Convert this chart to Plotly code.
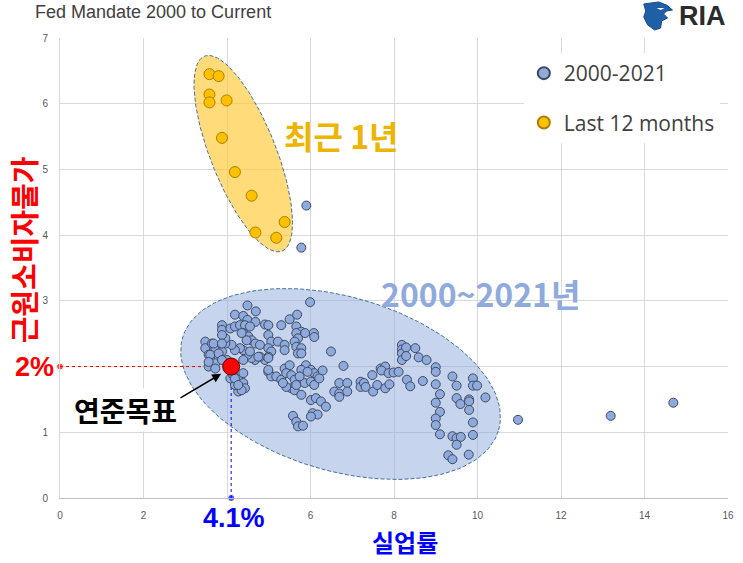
import math
import plotly.graph_objects as go

# ---------------- data (unemployment %, core inflation %) ----------------
pts_2000_2021 = [
    (4.49, 2.93), (4.69, 2.84), (5.99, 2.98), (4.19, 2.79), (4.39, 2.77), (4.49, 2.71),
    (4.68, 2.68), (5.50, 2.72), (5.68, 2.79), (4.91, 2.64), (4.99, 2.63), (5.30, 2.63),
    (3.88, 2.63), (3.88, 2.56), (4.08, 2.58), (4.19, 2.61), (4.31, 2.63), (4.43, 2.63),
    (4.55, 2.61), (5.66, 2.61), (5.78, 2.53), (5.87, 2.51), (6.08, 2.51), (6.09, 2.45),
    (5.66, 2.51), (5.70, 2.43), (5.62, 2.38), (4.39, 2.51), (4.51, 2.46), (4.59, 2.40),
    (4.68, 2.35), (4.79, 2.33), (4.99, 2.48), (5.06, 2.38), (5.22, 2.38), (5.38, 2.33),
    (5.38, 2.25), (4.99, 2.28), (5.06, 2.23), (4.99, 2.15), (4.91, 2.10), (4.79, 2.15),
    (4.67, 2.10), (4.59, 2.13), (4.49, 2.18), (4.39, 2.10), (4.39, 2.25), (4.31, 2.28),
    (4.19, 2.25), (4.11, 2.33), (3.96, 2.35), (3.96, 2.43), (3.88, 2.48), (3.48, 2.38),
    (3.48, 2.28), (3.64, 2.35), (3.72, 2.25), (3.56, 2.18), (3.64, 2.10), (3.80, 2.15),
    (3.88, 2.23), (4.00, 2.10), (3.56, 2.00), (3.72, 2.05), (5.66, 2.30), (5.78, 2.28),
    (5.70, 2.20), (5.78, 2.20), (6.49, 2.23), (6.79, 2.01),
    (4.99, 1.92), (5.06, 1.85), (5.18, 1.85), (5.30, 1.80), (5.38, 1.97), (5.50, 2.02),
    (5.42, 1.90), (5.54, 1.87), (5.62, 1.80), (5.54, 1.67), (5.42, 1.69), (5.34, 1.75),
    (5.62, 1.64), (5.66, 1.72), (5.58, 1.25), (5.66, 1.16), (5.70, 1.09), (5.82, 1.10),
    (4.27, 1.80), (4.39, 1.75), (4.43, 1.67), (4.27, 1.62), (4.19, 1.72), (4.08, 1.82),
    (4.15, 1.87), (4.39, 1.90),
    (5.89, 2.02), (6.01, 1.95), (6.09, 1.90), (6.17, 1.85), (6.29, 1.94), (5.78, 1.95),
    (5.86, 1.75), (6.01, 1.77), (6.09, 1.72), (5.78, 1.57), (6.01, 1.49), (6.13, 1.52),
    (6.25, 1.47), (6.37, 1.39), (6.05, 1.29), (6.17, 1.27), (6.01, 1.24), (5.74, 1.85),
    (5.93, 1.92), (6.21, 1.82), (6.57, 1.62), (6.69, 1.75), (6.88, 1.75), (6.69, 1.59),
    (6.69, 1.54), (6.88, 1.62), (7.20, 1.77), (7.20, 1.69), (7.28, 1.75), (7.32, 1.69),
    (7.48, 1.87), (7.50, 1.62), (7.60, 1.72), (7.68, 1.97), (7.79, 2.00), (7.70, 1.94),
    (7.87, 1.90), (7.99, 1.91), (7.79, 1.67), (7.89, 1.73),
    (8.19, 2.33), (8.19, 2.26), (8.19, 2.20), (8.29, 2.29), (8.51, 2.28), (8.19, 2.10),
    (8.29, 2.16), (8.59, 2.14), (8.78, 2.10), (9.00, 1.99), (9.00, 1.92), (8.11, 1.92),
    (8.31, 1.80), (8.39, 1.70), (8.69, 1.78), (9.00, 1.73), (9.40, 1.85), (9.50, 1.71),
    (9.89, 1.82), (9.89, 1.71), (9.99, 1.71), (10.19, 1.53), (9.10, 1.58), (9.00, 1.45),
    (9.50, 1.52), (9.59, 1.43), (9.80, 1.50), (9.80, 1.47), (9.80, 1.34), (9.10, 1.31),
    (9.00, 1.21), (9.00, 1.11), (9.89, 1.15), (9.10, 0.97), (9.40, 0.94), (9.50, 0.91),
    (9.60, 0.93), (9.50, 0.81), (9.89, 0.96), (9.30, 0.65), (9.40, 0.59), (9.79, 0.66),
    (3.68, 2.35), (3.60, 2.18), (3.80, 2.20), (3.88, 2.10), (3.56, 2.07), (3.72, 1.97),
    (3.88, 2.35), (4.35, 2.51), (4.47, 2.40), (4.55, 2.23), (4.75, 2.15), (4.99, 2.13),
    (4.99, 1.95), (4.19, 1.82), (4.35, 1.64), (4.27, 1.72),
    (5.90, 4.45), (5.78, 3.81), (10.97, 1.19), (13.19, 1.25), (14.69, 1.45),
]
pts_last12 = [
    (3.58, 6.45), (3.80, 6.42), (3.58, 6.14), (3.58, 6.02), (3.99, 6.05), (3.88, 5.48),
    (4.19, 4.96), (4.59, 4.60), (5.38, 4.20), (4.68, 4.04), (5.18, 3.96),
]
TARGET_UNEMP = 4.1
TARGET_CORE = 2.0
X_TICKS = list(range(0, 17, 2))
X_TICK_TEXT = ["0", "2", "", "6", "8", "10", "12", "14", "16"]
Y_TICKS = list(range(0, 8))
Y_TICK_TEXT = ["0", "1", "", "3", "4", "5", "6", "7"]

# ---------------- geometry ----------------
W, H = 743, 563
ML, MR, MT, MB = 60, 9, 38, 65
PW, PH = W - ML - MR, H - MT - MB
SX, SY = PW / 16.0, PH / 7.0


def ellipse(cx, cy, a_px, b_px, ang_deg, n=160):
    ph = math.radians(ang_deg)
    xs, ys = [], []
    for i in range(n + 1):
        t = 2 * math.pi * i / n
        dx = a_px * math.cos(t) * math.cos(ph) - b_px * math.sin(t) * math.sin(ph)
        dy = a_px * math.cos(t) * math.sin(ph) + b_px * math.sin(t) * math.cos(ph)
        xs.append(cx + dx / SX)
        ys.append(cy + dy / SY)
    return xs, ys


def paper(px, py):
    return (px - ML) / PW, (H - MB - py) / PH


fig = go.Figure()

# ellipses (background)
ex, ey = ellipse(6.72, 1.735, 166, 87, -16.1)
fig.add_trace(go.Scatter(x=ex, y=ey, mode="lines", fill="toself",
                         fillcolor="rgba(143,170,220,0.5)",
                         line=dict(color="#41719C", width=1, dash="4px,2px"),
                         hoverinfo="skip", showlegend=False))
ex, ey = ellipse(4.39, 5.24, 105, 33, -68.1)
fig.add_trace(go.Scatter(x=ex, y=ey, mode="lines", fill="toself",
                         fillcolor="rgba(255,200,50,0.65)",
                         line=dict(color="#41719C", width=1, dash="4px,2px"),
                         hoverinfo="skip", showlegend=False))

# guide lines to target
fig.add_trace(go.Scatter(x=[0, TARGET_UNEMP], y=[TARGET_CORE, TARGET_CORE], mode="lines+markers",
                         line=dict(color="red", width=1, dash="dot"),
                         marker=dict(size=[7, 0], color="red"), cliponaxis=False,
                         hoverinfo="skip", showlegend=False))
fig.add_trace(go.Scatter(x=[TARGET_UNEMP, TARGET_UNEMP], y=[0, TARGET_CORE], mode="lines+markers",
                         line=dict(color="blue", width=1, dash="dot"),
                         marker=dict(size=[7, 0], color="blue"), cliponaxis=False,
                         hoverinfo="skip", showlegend=False))

fig.add_trace(go.Scatter(x=[p[0] for p in pts_2000_2021], y=[p[1] for p in pts_2000_2021],
                         mode="markers", name="2000-2021", legendgroup="a",
                         marker=dict(size=9, color="#8FAADC", line=dict(color="#3E4A61", width=1))))
fig.add_trace(go.Scatter(x=[p[0] for p in pts_last12], y=[p[1] for p in pts_last12],
                         mode="markers", name="Last 12 months", legendgroup="b",
                         marker=dict(size=11, color="#FFC000", line=dict(color="#A88000", width=1))))
fig.add_trace(go.Scatter(x=[TARGET_UNEMP], y=[TARGET_CORE], mode="markers",
                         marker=dict(size=17, color="#FF0000", line=dict(color="#600000", width=1)),
                         hoverinfo="skip", showlegend=False))

KR = "Noto Sans CJK KR"
ann = []
ann.append(dict(x=3.86, y=1.89, ax=2.85, ay=1.51, axref="x", ayref="y", xref="x", yref="y",
                text="", showarrow=True, arrowhead=2, arrowsize=1.2, arrowwidth=1.5,
                arrowcolor="black"))
ann.append(dict(x=1.57, y=1.34, xref="x", yref="y", text="<b>연준목표</b>", showarrow=False,
                font=dict(family=KR, size=28, color="black"), bgcolor="white"))
ann.append(dict(x=0, y=TARGET_CORE, xref="x", yref="y", text="<b>2%</b>", showarrow=False,
                xanchor="right", xshift=-4, font=dict(family="Liberation Sans", size=27, color="#FF0000"),
                bgcolor="white"))
ann.append(dict(x=TARGET_UNEMP, y=0, xref="x", yref="y", text="<b>4.1%</b>", showarrow=False,
                yanchor="top", yshift=-3, xshift=3,
                font=dict(family="Liberation Sans", size=27, color="#0000FF"), bgcolor="white"))
ann.append(dict(x=6.72, y=5.52, xref="x", yref="y", text="<b>최근 1년</b>", showarrow=False,
                font=dict(family=KR, size=32, color="#EDB400")))
ann.append(dict(x=10.07, y=3.12, xref="x", yref="y", text="<b>2000~2021년</b>", showarrow=False,
                font=dict(family=KR, size=32, color="#8FAADC")))


def pann(px, py, text, font, **kw):
    x, y = paper(px, py)
    d = dict(x=x, y=y, xref="paper", yref="paper", text=text, showarrow=False,
             xanchor="center", yanchor="middle", font=font)
    d.update(kw)
    ann.append(d)


pann(23, 250, "<b>근원소비자물가</b>", dict(family=KR, size=29, color="#FF0000"), textangle=-90)
pann(408, 541, "<b>실업률</b>", dict(family=KR, size=24, color="#0000FF"))
pann(33, 12, "Fed Mandate 2000 to Current", dict(family="Liberation Sans", size=18, color="#404040"),
     xanchor="left")
pann(708, 16, "<b>RIA</b>", dict(family="Liberation Sans", size=27, color="#2B2B2B"))

# eagle logo shape
logo_px = [(649, 4), (664, 2), (672, 5), (678, 10), (672, 11), (669, 14), (673, 18),
           (667, 21), (666, 28), (660, 30), (653, 25), (649, 17), (651, 11)]
path = "M " + " L ".join("%.4f,%.4f" % paper(a, b) for a, b in logo_px) + " Z"
eye_px = [(662, 8), (670, 8), (666, 10)]
eye = "M " + " L ".join("%.4f,%.4f" % paper(a, b) for a, b in eye_px) + " Z"

fig.update_layout(
    width=W, height=H,
    margin=dict(l=ML, r=MR, t=MT, b=MB),
    paper_bgcolor="white", plot_bgcolor="white",
    annotations=ann,
    shapes=[dict(type="path", path=path, xref="paper", yref="paper",
                 fillcolor="#1F5FA8", line=dict(color="#154a86", width=1)),
            dict(type="path", path=eye, xref="paper", yref="paper",
                 fillcolor="white", line=dict(width=0))],
    legend=dict(x=paper(528, 0)[0], y=paper(0, 53)[1], xanchor="left", yanchor="top",
                bgcolor="white", font=dict(family="Open Sans", size=21, color="#404040"),
                tracegroupgap=19, itemsizing="constant", traceorder="grouped"),
    xaxis=dict(range=[0, 16], tickvals=X_TICKS, ticktext=X_TICK_TEXT, showgrid=True,
               gridcolor="#D9D9D9", showline=True, linecolor="#BFBFBF", zeroline=False,
               ticks="", ticklabelstandoff=8,
               tickfont=dict(family="Liberation Sans", size=10, color="#595959")),
    yaxis=dict(range=[0, 7], tickvals=Y_TICKS, ticktext=Y_TICK_TEXT, showgrid=True,
               gridcolor="#D9D9D9", showline=True, linecolor="#D9D9D9", zeroline=False,
               ticks="", ticklabelstandoff=9,
               tickfont=dict(family="Liberation Sans", size=10, color="#595959")),
)

fig.write_html("out.html")
